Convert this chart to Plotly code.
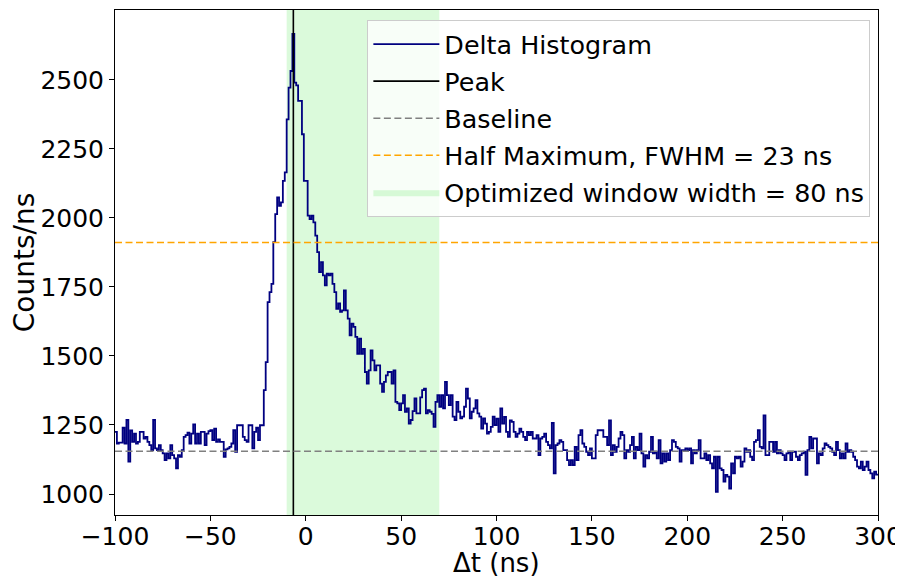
import numpy as np
import plotly.graph_objects as go

# ---- data ----
bin_start = -100  # ns, bin width 1 ns
seg_pre = [1225, 1183, 1186, 1186, 1240, 1183, 1268, 1117, 1230, 1189, 1219, 1183, 1189, 1225, 1225, 1201,
           1207, 1189, 1177, 1159, 1268, 1165, 1159, 1177, 1159, 1147, 1123, 1147, 1129, 1177, 1141, 1129,
           1093, 1141, 1135, 1159, 1207, 1213, 1222, 1183, 1219, 1252, 1183, 1219, 1183, 1225, 1225, 1177,
           1219, 1228, 1231, 1195, 1237, 1189, 1198, 1189, 1189, 1135, 1162, 1165, 1171, 1183, 1231, 1153,
           1249, 1249, 1249, 1207, 1195, 1189, 1249, 1249, 1165, 1225, 1240, 1195, 1249, 1249]
seg_peak = [1376, 1478, 1695, 1731, 1761, 1912, 2014, 2074, 2044, 2056, 2134, 2165, 2357, 2472, 2532, 2666,
            2490, 2480, 2424, 2424, 2303, 2134, 2134, 2008, 1996, 2008, 1984, 1936, 1876, 1804, 1840, 1792,
            1756, 1798, 1792, 1798, 1761, 1731, 1671]
seg_tail = [1690, 1660, 1665, 1737, 1665, 1635, 1575, 1617, 1605, 1569, 1508, 1563, 1508, 1526, 1442, 1400,
            1448, 1520, 1484, 1448, 1466, 1466, 1400, 1370, 1406, 1430, 1442, 1442, 1400, 1448, 1334, 1328,
            1304, 1328, 1358, 1298, 1310, 1255, 1268, 1300, 1346, 1292, 1292, 1350, 1376, 1382, 1292, 1304,
            1298, 1290, 1243, 1334, 1358, 1316, 1358, 1310, 1406, 1358, 1322, 1358, 1280, 1268, 1334, 1298,
            1274, 1280, 1316, 1382, 1346, 1274, 1298, 1310, 1340, 1292, 1280, 1237, 1274, 1255, 1219, 1225,
            1243, 1280, 1250]
seg_mid = [1273, 1225, 1310, 1255, 1279, 1225, 1207, 1267, 1261, 1225, 1207, 1219, 1237, 1225, 1207, 1195,
           1225, 1213, 1225, 1201, 1201, 1213, 1141, 1201, 1207, 1219, 1189, 1177, 1165, 1258, 1075, 1177,
           1183, 1195, 1189, 1159, 1159, 1123, 1105, 1123, 1105, 1171, 1123, 1213, 1231, 1183, 1171, 1153,
           1141, 1165, 1129, 1129, 1213, 1231, 1231, 1231, 1207, 1207, 1177, 1267, 1141, 1177, 1153, 1171,
           1201, 1225, 1213, 1129, 1159, 1153, 1177, 1207, 1129, 1171, 1159, 1219, 1147, 1099, 1141, 1129,
           1153, 1207, 1147, 1153, 1129, 1195, 1111, 1147, 1117, 1147, 1123, 1159, 1195, 1189, 1171, 1165,
           1117]
seg_end = [1159, 1159,
           1165, 1159, 1165, 1111, 1159, 1147, 1159, 1195, 1129, 1129, 1147, 1123, 1141, 1111, 1093, 1135,
           1008, 1135, 1093, 1087, 1045, 1069, 1063, 1020, 1111, 1075, 1135, 1129, 1135, 1099, 1117, 1165,
           1153, 1159, 1135, 1123, 1189, 1195, 1231, 1171, 1165, 1285, 1141, 1141, 1189, 1189, 1153, 1189,
           1147, 1159, 1147, 1141, 1123, 1147, 1153, 1123, 1153, 1153, 1135, 1123, 1141, 1147, 1153, 1069,
           1159, 1207, 1165, 1201, 1201, 1111, 1147, 1141, 1165, 1183, 1177, 1171, 1165, 1153, 1141, 1189,
           1159, 1129, 1147, 1129, 1183, 1153, 1159, 1153, 1135, 1123, 1099, 1093, 1117, 1087, 1099, 1117,
           1087, 1075, 1057, 1081, 1070]
counts = seg_pre + seg_peak + seg_tail + seg_mid + seg_end

peak_pos = -6.5
baseline = 1155
half_max = 1911
fwhm = 23
window = (-10, 70)
x_range = (-100, 300)
y_range = (924, 2753)
x_ticks = [-100, -50, 0, 50, 100, 150, 200, 250, 300]
y_ticks = [1000, 1250, 1500, 1750, 2000, 2250, 2500]
x_title = "Δt (ns)"
y_title = "Counts/ns"

edges = bin_start + np.arange(len(counts) + 1)
y_step = list(counts) + [counts[-1]]

FONT = "DejaVu Sans"
fig = go.Figure()

# optimized window span
fig.add_trace(go.Scatter(
    x=[window[0], window[1], window[1], window[0], window[0]],
    y=[y_range[0], y_range[0], y_range[1], y_range[1], y_range[0]],
    fill="toself", fillcolor="rgba(144,238,144,0.32)", line=dict(width=0),
    mode="lines", name=f"Optimized window width = {window[1]-window[0]} ns",
    legendgroup="e", legendrank=5, hoverinfo="skip"))

fig.add_trace(go.Scatter(
    x=edges, y=y_step, mode="lines", line=dict(shape="hv", color="#000080", width=1.8),
    name="Delta Histogram", legendgroup="a", legendrank=1))

fig.add_trace(go.Scatter(
    x=[peak_pos, peak_pos], y=list(y_range), mode="lines",
    line=dict(color="black", width=1.6), name="Peak", legendgroup="b", legendrank=2))

fig.add_trace(go.Scatter(
    x=list(x_range), y=[baseline, baseline], mode="lines",
    line=dict(color="#808080", width=1.5, dash="7px,3.5px"), name="Baseline",
    legendgroup="c", legendrank=3))

fig.add_trace(go.Scatter(
    x=list(x_range), y=[half_max, half_max], mode="lines",
    line=dict(color="#FFA500", width=1.5, dash="7px,3.5px"),
    name=f"Half Maximum, FWHM = {fwhm} ns", legendgroup="d", legendrank=4))

fig.update_layout(
    width=895, height=571,
    margin=dict(l=107, r=25, t=2, b=64, autoexpand=False),
    paper_bgcolor="white", plot_bgcolor="white",
    font=dict(family=FONT, size=25, color="black"),
    showlegend=True,
    legend=dict(x=0.99, y=0.98, xanchor="right", yanchor="top",
                bgcolor="rgba(255,255,255,0.8)", bordercolor="#cccccc", borderwidth=1,
                font=dict(family=FONT, size=25.4), tracegroupgap=1,
                itemwidth=66),
    annotations=[dict(text=x_title, xref="paper", yref="paper", x=0.5, y=-0.095,
                      xanchor="center", yanchor="middle", showarrow=False, borderpad=0,
                      font=dict(family=FONT, size=26, color="black"))],
)
fig.update_xaxes(range=list(x_range), tickvals=x_ticks, showgrid=False, zeroline=False,
                 showline=True, linecolor="black", linewidth=1, mirror=True,
                 ticks="outside", ticklen=5, tickcolor="black", automargin=False,
                 ticklabelstandoff=-6, tickfont=dict(size=25))
fig.update_yaxes(range=list(y_range), tickvals=y_ticks, showgrid=False, zeroline=False,
                 showline=True, linecolor="black", linewidth=1, mirror=True,
                 ticks="outside", ticklen=5, tickcolor="black", automargin=False,
                 tickfont=dict(size=25), title=dict(text=y_title, font=dict(size=28), standoff=0))

fig.write_html("out.html")
